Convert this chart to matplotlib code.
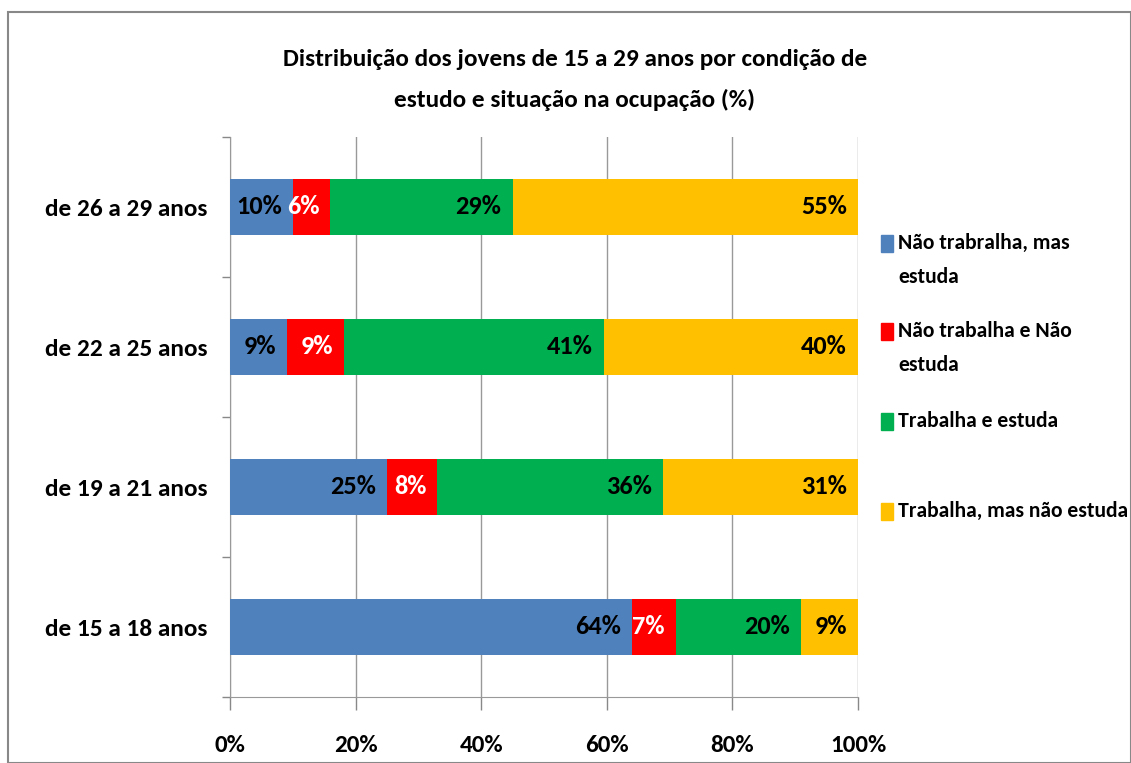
import matplotlib
matplotlib.use("Agg")
import matplotlib.pyplot as plt
from matplotlib import font_manager
from matplotlib.patches import Rectangle
import numpy as np

# fonte estreita em negrito, a primeira que existir
disponiveis = {f.name for f in font_manager.fontManager.ttflist}
preferidas = ['Carlito', 'Roboto Condensed', 'Open Sans Condensed', 'PT Sans Narrow',
              'Liberation Sans Narrow', 'Archivo Narrow', 'Noto Sans']
fonte = next((f for f in preferidas if f in disponiveis), 'DejaVu Sans')
plt.rcParams['font.family'] = [fonte, 'DejaVu Sans']
plt.rcParams['font.weight'] = 'bold'

# faixas etárias (de baixo para cima)
faixas = ['de 15 a 18 anos', 'de 19 a 21 anos', 'de 22 a 25 anos', 'de 26 a 29 anos']
series = ['Não trabralha, mas\nestuda', 'Não trabalha e Não\nestuda',
          'Trabalha e estuda', 'Trabalha, mas não estuda']
nao_trab_estuda = [64, 25, 9, 10]
nao_trab_nao_estuda = [7, 8, 9, 6]
trab_estuda = [20, 36, 41, 29]
trab_nao_estuda = [9, 31, 40, 55]
cores = ['#4F81BD', '#FF0000', '#00B050', '#FFC000']
cor_texto = ['black', 'white', 'black', 'black']

dados = np.array([nao_trab_estuda, nao_trab_nao_estuda, trab_estuda, trab_nao_estuda], dtype=float)
perc = dados / dados.sum(axis=0) * 100

fig = plt.figure(figsize=(11.31, 7.63), dpi=100)
# moldura do gráfico
fig.patches.append(Rectangle((8 / 1131, 0), 1 - 8 / 1131, 1 - 12 / 763, transform=fig.transFigure,
                             fill=False, edgecolor='#888888', linewidth=1.5))

ax = fig.add_axes([230 / 1131, 66 / 763, 628 / 1131, 560 / 763])
y = np.arange(len(faixas))
esq = np.zeros(len(faixas))
for i in range(4):
    ax.barh(y, perc[i], left=esq, height=0.4, color=cores[i], zorder=3)
    for j in range(len(faixas)):
        ax.annotate(f'{dados[i, j]:.0f}%', xy=(esq[j] + perc[i, j], y[j]), xytext=(-8, 0),
                    textcoords='offset points', ha='right', va='center',
                    fontsize=19, color=cor_texto[i], zorder=4)
    esq += perc[i]

ax.set_xlim(0, 100)
ax.set_ylim(-0.5, 3.5)
ax.set_xticks(np.arange(0, 101, 20))
ax.set_xticklabels([f'{v}%' for v in range(0, 101, 20)], fontsize=18)
ax.set_yticks(y)
ax.set_yticklabels(faixas, fontsize=18.2)
ax.set_yticks(np.arange(-0.5, 3.6, 1), minor=True)
ax.tick_params(axis='y', which='major', length=0, pad=16)
ax.tick_params(axis='y', which='minor', length=6, color='#888888', width=1)
ax.tick_params(axis='x', length=9, color='#888888', width=1, pad=18)
ax.grid(axis='x', color='#999999', linewidth=1, zorder=0)
for s in ['top', 'right']:
    ax.spines[s].set_visible(False)
for s in ['left', 'bottom']:
    ax.spines[s].set_color('#999999')

fig.text(575 / 1131, 1 - 80 / 763,
         'Distribuição dos jovens de 15 a 29 anos por condição de\nestudo e situação na ocupação (%)',
         ha='center', va='center', fontsize=18.2, linespacing=2.0)

# legenda
topos = [244, 332, 422, 512]
for k in range(4):
    yy = 1 - topos[k] / 763
    fig.patches.append(Rectangle((881 / 1131, yy - 8 / 763), 12 / 1131, 17 / 763,
                                 transform=fig.transFigure, color=cores[k]))
    fig.text(898 / 1131, yy + 11 / 763, series[k], ha='left', va='top', fontsize=15.6, linespacing=1.9)

fig.savefig('out.png', dpi=100)
